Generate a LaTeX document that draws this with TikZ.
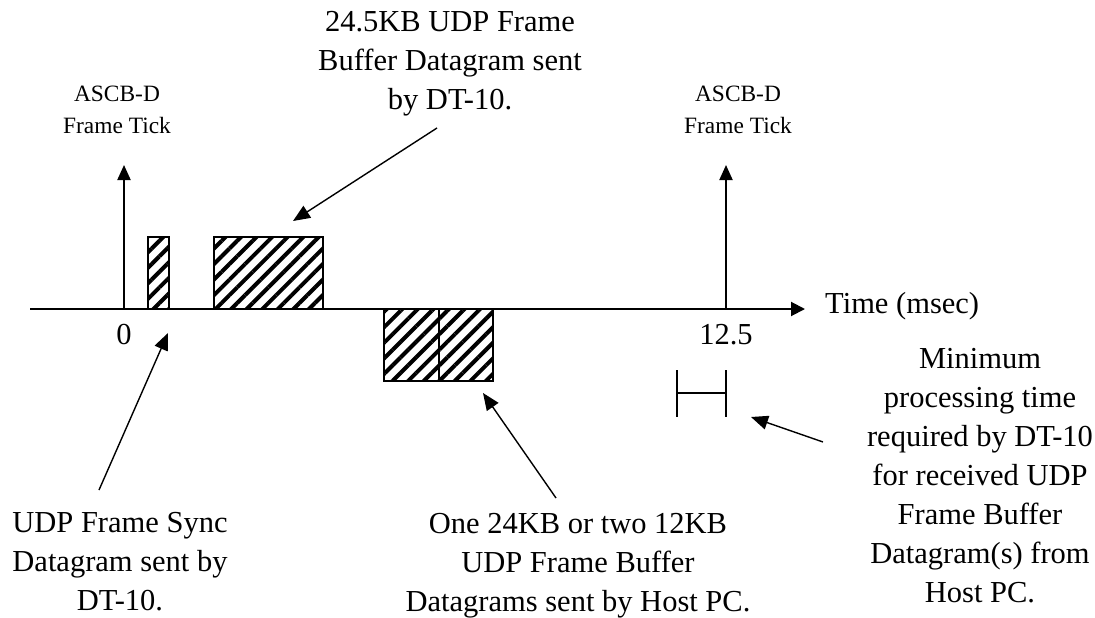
\documentclass[tikz,border=0pt]{standalone}
\usepackage{fontspec}
\setmainfont{Liberation Serif}
\usetikzlibrary{positioning,arrows.meta,patterns.meta}

\begin{document}
\begin{tikzpicture}[x=1pt,y=-1pt,
            note/.style={align=center,inner sep=0pt,font=\fontsize{30.5}{39}\selectfont},
            ticklabel/.style={align=center,inner sep=0pt,font=\fontsize{23.4}{32}\selectfont},
            packet/.style={draw,line width=2pt,inner sep=0pt,outer sep=0pt,
              pattern={Lines[angle=45,distance=11pt,line width=4pt]}},
            axis/.style={line width=2pt,-{Triangle[length=14pt,width=14pt]}},
            tickarrow/.style={line width=2pt,-{Triangle[length=15pt,width=13pt]}},
            arrow/.style={line width=1.4pt,-{Triangle[length=17pt,width=14pt]}}]
            \useasboundingbox (0,0) rectangle (1095,618);
            % time axis
            \coordinate (origin) at (30,309);
            \coordinate (axend) at (805,309);
            \draw[axis] (origin)--(axend);
            \node[note,anchor=base west] (time) at (825,313) {Time (msec)};
            % frame ticks
            \coordinate (t0) at (124,309);
            \coordinate (t0top) at (124,165);
            \coordinate (t1) at (726,309);
            \coordinate (t1top) at (726,165);
            \draw[tickarrow] (t0)--(t0top);
            \draw[tickarrow] (t1)--(t1top);
            \node[ticklabel] (tick0) at (117,110) {ASCB-D\\Frame Tick};
            \node[ticklabel] (tick1) at (738,110) {ASCB-D\\Frame Tick};
            \node[note] (zero) at (124,335) {0};
            \node[note] (end) at (726,335) {12.5};
            % datagrams
            \node[packet,minimum width=21pt,minimum height=72pt,anchor=south west] (sync) at (148,309) {};
            \node[packet,minimum width=109pt,minimum height=72pt,anchor=south west] (fb) at (214,309) {};
            \node[packet,minimum width=55pt,minimum height=72pt,anchor=north west] (hp1) at (384,309) {};
            \node[packet,minimum width=54pt,minimum height=72pt,right=0pt of hp1] (hp2) {};
            % minimum processing time
            \coordinate (minL) at (677,393);
            \coordinate (minR) at (726,393);
            \draw[line width=1.5pt] (minL)--(minR);
            \draw[line width=1.5pt] (677,370)--(677,417);
            \draw[line width=1.5pt] (726,370)--(726,417);
            % notes
            \node[note] (fbtxt) at (450,64) {24.5KB UDP Frame\\Buffer Datagram sent\\by DT-10.};
            \node[note] (synctxt) at (120,562) {UDP Frame Sync\\Datagram sent by\\DT-10.};
            \node[note] (hosttxt) at (578,566) {One 24KB or two 12KB\\UDP Frame Buffer\\Datagrams sent by Host PC.};
            \node[note] (mintxt) at (980,476) {Minimum\\processing time\\required by DT-10\\for received UDP\\Frame Buffer\\Datagram(s) from\\Host PC.};
            \coordinate (fbfrom) at (437,128);
            \coordinate (fbto) at (293,221);
            \coordinate (syncfrom) at (99,490);
            \coordinate (syncto) at (168,333);
            \coordinate (hostfrom) at (556,498);
            \coordinate (hostto) at (483,393);
            \coordinate (minfrom) at (823,442);
            \coordinate (minto) at (751,417);
            \draw[arrow] (fbfrom)--(fbto);
            \draw[arrow] (syncfrom)--(syncto);
            \draw[arrow] (hostfrom)--(hostto);
            \draw[arrow] (minfrom)--(minto);
        \end{tikzpicture}
\end{document}
